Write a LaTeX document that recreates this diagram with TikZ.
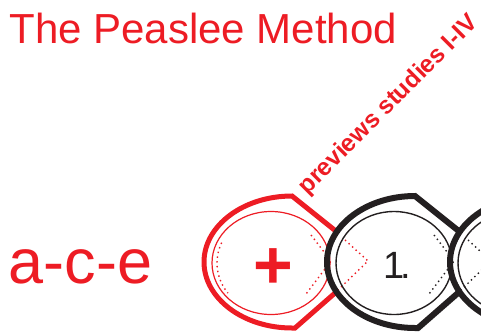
\documentclass[tikz,border=0pt]{standalone}
\usepackage{fontspec}
\setmainfont{Liberation Sans}
\definecolor{pred}{RGB}{237,28,36}
\definecolor{pblack}{RGB}{35,31,32}

\begin{document}
\begin{tikzpicture}[x=1pt,y=1pt,
    rim/.style={line width=5pt,line join=miter},
    rimdark/.style={line width=6pt,line join=miter},
    ring/.style={line width=1.2pt},
    dots/.style={line width=1.4pt,dash pattern=on 1.4pt off 3.4pt}]
  \useasboundingbox (0,0) rectangle (481,-335);
  \clip (0,0) rectangle (481,-335);
  % centres of the rings
  \coordinate (P) at (271,-263);
  \coordinate (N) at (394,-263);
  \coordinate (R) at (517,-263);
  % labels
  \node[pred,anchor=base west,font=\fontsize{42}{42}\selectfont] (title) at (6,-43) {The Peaslee Method};
  \node[pred,anchor=base west,font=\fontsize{63}{63}\selectfont] (ace) at (5,-283) {a-c-e};
  \node[pred,anchor=base west,rotate=45,font=\fontsize{24.5}{24.5}\bfseries] (prev) at (305,-198) {previews studies I-IV};
  % first ring
  \draw[pred,ring] (P) ellipse[x radius=59,y radius=51.5];
  \draw[pred,dots] (P) ++(156:54 and 50) arc[start angle=156,end angle=217,x radius=54,y radius=50];
  \draw[pred,dots] (311,-235) -- (331,-261) -- (306,-294);
  \draw[pred,dots] (345,-240) -- (368,-261) -- (338,-290);
  \node[pred,anchor=base,font=\fontsize{68}{68}\bfseries] (plus) at (273,-288) {+};
  % second ring
  \draw[pblack,ring,line width=1.4pt] (N) ellipse[x radius=58,y radius=51.5];
  \draw[pblack,dots] (434,-235) -- (454,-261) -- (429,-294);
  \draw[pblack,dots] (468,-240) -- (491,-261) -- (461,-290);
  \node[pblack,anchor=base west,font=\fontsize{38}{38}\selectfont] (one) at (380,-278) {1\kern-4pt.};
  % third ring
  \draw[pblack,ring,line width=1.4pt] (R) ellipse[x radius=59,y radius=51.5];
  % outer rims
  \draw[pred,rim] (337,-232) -- (292,-196) arc[start angle=90,end angle=270,x radius=88,y radius=66] -- (295,-328) -- (335,-293);
  \draw[pblack,rimdark] (460,-232) -- (415,-196) arc[start angle=90,end angle=270,x radius=88,y radius=66] -- (418,-328) -- (458,-293);
  \draw[pblack,rimdark] (538,-196) arc[start angle=90,end angle=270,x radius=88,y radius=66];
\end{tikzpicture}
\end{document}
